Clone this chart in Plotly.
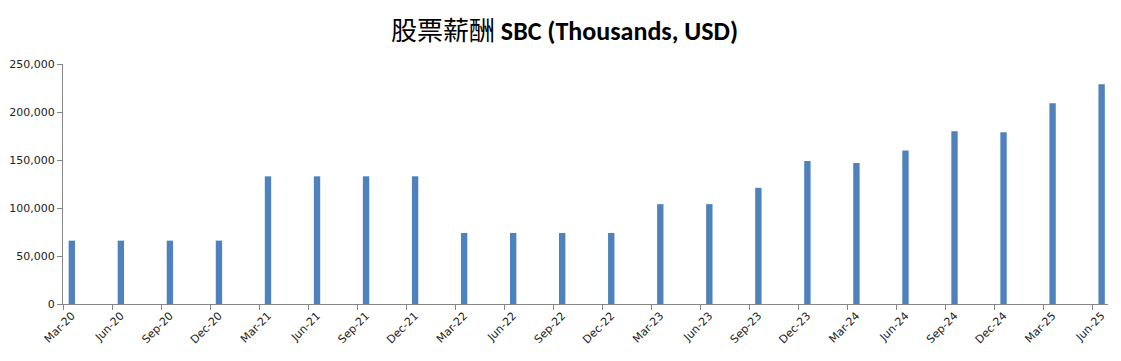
import plotly.graph_objects as go

quarters = ["Mar-20", "Jun-20", "Sep-20", "Dec-20", "Mar-21", "Jun-21", "Sep-21", "Dec-21",
            "Mar-22", "Jun-22", "Sep-22", "Dec-22", "Mar-23", "Jun-23", "Sep-23", "Dec-23",
            "Mar-24", "Jun-24", "Sep-24", "Dec-24", "Mar-25", "Jun-25"]
sbc = [66000, 66000, 66000, 66000, 133000, 133000, 133000, 133000,
       74000, 74000, 74000, 74000, 104000, 104000, 121000, 149000,
       147000, 160000, 180000, 179000, 209000, 229000]
y_ticks = [0, 50000, 100000, 150000, 200000, 250000]

xs = list(range(len(quarters)))

fig = go.Figure()
fig.add_trace(go.Bar(x=xs, y=sbc, width=0.13, marker=dict(color="#4F81BD", line=dict(width=0)),
                     hoverinfo="x+y"))

# page body has an 8px default margin, so the figure is sized/offset to compensate
fig.update_layout(
    width=1113, height=353,
    margin=dict(l=55, r=13, t=56, b=57, autoexpand=False),
    paper_bgcolor="white", plot_bgcolor="white",
    showlegend=False,
    title=dict(
        text="<span style='font-family:\"Noto Sans CJK TC\"'>股票薪酬</span> <b>SBC (Thousands, USD)</b>",
        x=0.5, xanchor="center", y=0.935, yanchor="middle",
        font=dict(family="Carlito, Liberation Sans, Noto Sans CJK TC", size=26, color="#000000"),
    ),
    font=dict(family="DejaVu Sans", size=11, color="#222222"),
)
fig.update_xaxes(
    range=[-0.18, 21.13], automargin=False,
    tickmode="array", tickvals=xs, ticktext=quarters, tickangle=-45,
    ticks="", showgrid=False, zeroline=False,
    showline=True, linecolor="#868686", linewidth=1,
    tickfont=dict(family="DejaVu Sans", size=11, color="#222222"),
    minor=dict(tickmode="linear", tick0=-0.18, dtick=1, ticks="outside", ticklen=5,
               tickcolor="#868686", showgrid=False),
)
fig.update_yaxes(
    range=[0, 250000], automargin=False, tickmode="array", tickvals=y_ticks, tickformat=",",
    ticks="outside", ticklen=5, tickcolor="#868686",
    showgrid=False, zeroline=False,
    showline=True, linecolor="#868686", linewidth=1,
    tickfont=dict(family="DejaVu Sans", size=11, color="#222222"),
)

fig.write_html("out.html")
